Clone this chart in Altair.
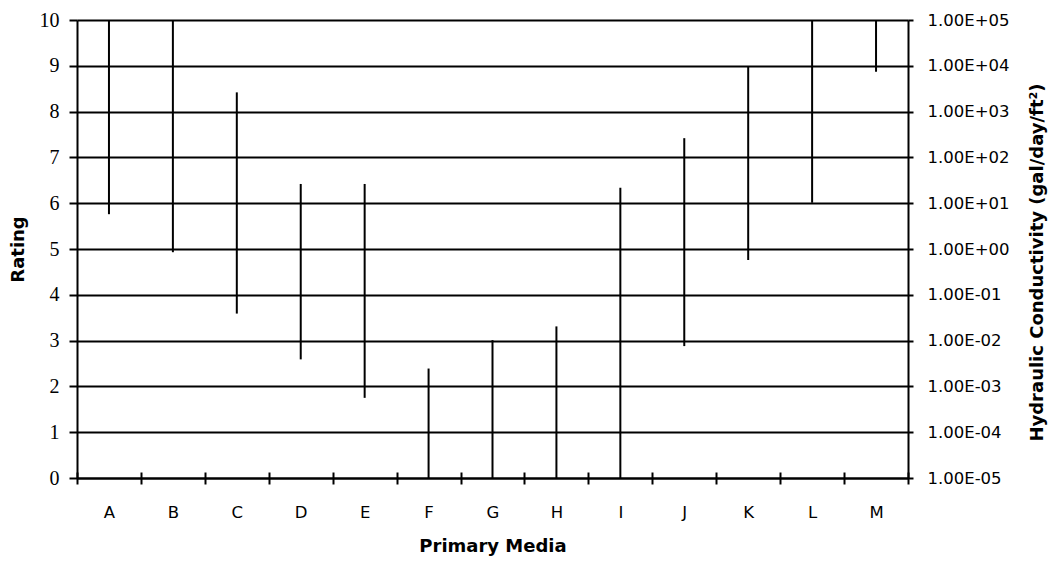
import altair as alt
import pandas as pd

# Rating range of each primary medium (left axis, 0-10).
media = ["A", "B", "C", "D", "E", "F", "G", "H", "I", "J", "K", "L", "M"]
rating_low = [5.76, 4.93, 3.59, 2.59, 1.75, 0.0, 0.0, 0.0, 0.0, 2.88, 4.76, 6.01, 8.87]
rating_high = [10.0, 10.0, 8.42, 6.42, 6.42, 2.39, 3.01, 3.31, 6.34, 7.42, 8.98, 10.0, 10.0]

# Each rating step is one decade of hydraulic conductivity (1E-05 .. 1E+05).
rating_ticks = list(range(0, 11))

df = pd.DataFrame({
    "media": media,
    "pos": [i + 0.5 for i in range(len(media))],
    "low": rating_low,
    "high": rating_high,
})

centers = [i + 0.5 for i in range(len(media))]
edges = list(range(0, len(media) + 1))
letters = "[" + ",".join(f"'{m}'" for m in media) + "]"

sans = "DejaVu Sans"
serif = "Liberation Serif"

x_scale = alt.Scale(domain=[0, len(media)], nice=False, zero=False)
y_scale = alt.Scale(domain=[0, 10], nice=False, zero=False)

base = alt.Chart(df)

bars = base.mark_rule(color="black", strokeWidth=2).encode(
    x=alt.X("pos:Q", scale=x_scale,
            axis=alt.Axis(values=centers, labelExpr=f"{letters}[floor(datum.value)]",
                          ticks=False, tickSize=0, grid=False,
                          domainColor="black", domainWidth=2,
                          labelFont=sans, labelFontSize=16.5, labelColor="black",
                          labelPadding=39, labelBaseline="alphabetic",
                          title="Primary Media", titleFont=sans, titleFontSize=18,
                          titleFontWeight="bold", titleColor="black", titlePadding=17)),
    y=alt.Y("low:Q", scale=y_scale,
            axis=alt.Axis(values=rating_ticks, grid=True, gridColor="black", gridWidth=2,
                          gridOpacity=1, domainColor="black", domainWidth=2,
                          tickColor="black", tickWidth=2, tickSize=8,
                          labelFont=serif, labelFontSize=20, labelColor="black",
                          labelPadding=10,
                          title="Rating", titleFont=sans, titleFontSize=18,
                          titleFontWeight="bold", titleColor="black", titlePadding=12)),
    y2="high:Q",
)

conductivity_label = (
    "'1.00E' + (datum.value >= 5 ? '+' : '-') + '0' + abs(datum.value - 5)"
)

# Invisible copy of the bars that carries the crossing category ticks
# and the hydraulic-conductivity axis on the right.
guides = base.mark_rule(opacity=0).encode(
    x=alt.X("pos:Q", scale=x_scale,
            axis=alt.Axis(orient="bottom", offset=-6, values=edges, tickSize=12,
                          tickColor="black", tickWidth=2, labels=False, domain=False,
                          grid=False, title=None)),
    y=alt.Y("low:Q", scale=y_scale,
            axis=alt.Axis(orient="right", values=rating_ticks, labelExpr=conductivity_label,
                          grid=False, domainColor="black", domainWidth=2,
                          tickColor="black", tickWidth=2, tickSize=5,
                          labelFont=sans, labelFontSize=16.5, labelColor="black",
                          labelPadding=14,
                          title="Hydraulic Conductivity (gal/day/ft²)", titleFont=sans,
                          titleFontSize=18, titleFontWeight="bold", titleColor="black",
                          titleAngle=270, titleBaseline="middle", titleAlign="center",
                          titleX=129, titleY=242)),
    y2="high:Q",
)

chart = (
    alt.layer(bars, guides)
    .resolve_scale(x="independent", y="independent")
    .properties(
        width=831, height=458,
        autosize=alt.AutoSizeParams(type="none"),
        padding={"left": 77, "top": 20, "right": 146, "bottom": 83},
    )
    .configure_view(stroke=None)
    .configure(background="white")
)

chart.save("out.html", embed_options={"renderer": "svg", "actions": False})
